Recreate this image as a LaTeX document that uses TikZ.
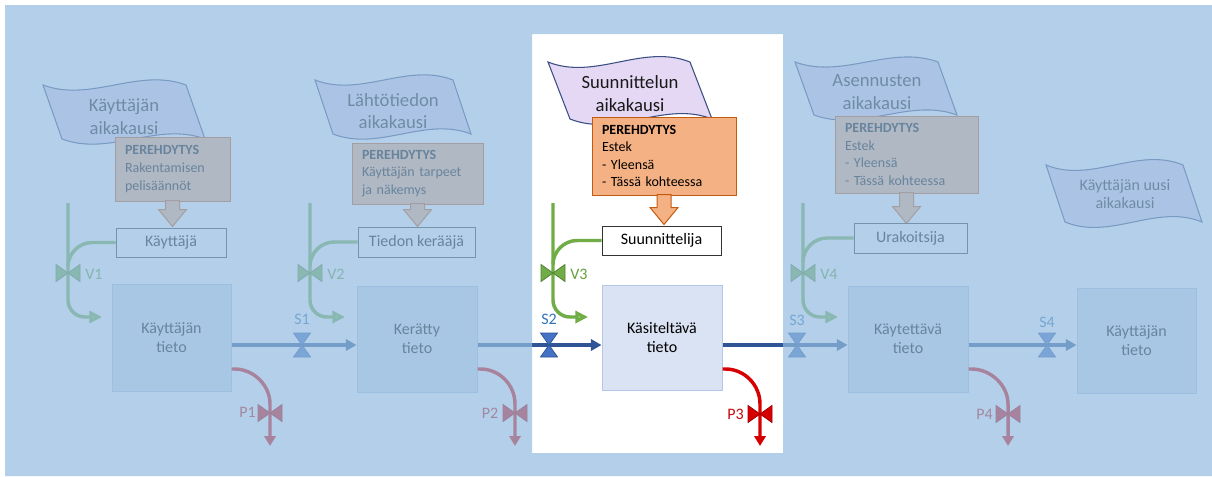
\documentclass[tikz,border=0pt]{standalone}
\usepackage{fontspec}
\setmainfont{Carlito}
\usetikzlibrary{arrows.meta,calc}
\definecolor{bgover}{RGB}{148,188,224}
\definecolor{flagfill}{RGB}{228,216,244}
\definecolor{flagdraw}{RGB}{60,78,130}
\definecolor{orfill}{RGB}{244,177,131}
\definecolor{ordraw}{RGB}{197,90,17}
\definecolor{tietofill}{RGB}{218,227,243}
\definecolor{tietodraw}{RGB}{180,199,231}
\definecolor{flowblue}{RGB}{47,85,151}
\definecolor{valveblue}{RGB}{68,114,196}
\definecolor{sblue}{RGB}{46,117,182}
\definecolor{pgreen}{RGB}{112,173,71}
\definecolor{dgreen}{RGB}{84,130,53}
\definecolor{lgreen}{RGB}{169,209,142}
\definecolor{pred}{RGB}{215,0,0}
\definecolor{dred}{RGB}{160,0,0}
\newcommand\pxu{0.75pt}
% l, y-top-corners, w, y-bottom-corners, slant
\newcommand\flagshape[5]{%
  \pgfmathsetmacro\fd{0.33*(#4-#2)}%
  \pgfmathsetmacro\fw{#3-#5}%
  \draw[flagsty] (#1,#2) .. controls ({#1+\fw/3},{#2+\fd}) and ({#1+2*\fw/3},{#2-\fd}) .. ({#1+\fw},#2)
    -- ({#1+#3},#4) .. controls ({#1+#3-\fw/3},{#4-\fd}) and ({#1+#3-2*\fw/3},{#4+\fd}) .. ({#1+#5},#4) -- cycle;}
\newcommand\valveLR[3]{\filldraw[#3] (#1-12,#2-8.5) -- (#1,#2) -- (#1-12,#2+8.5) -- cycle
  (#1+12,#2-8.5) -- (#1,#2) -- (#1+12,#2+8.5) -- cycle;}
\newcommand\valveTB[3]{\filldraw[#3] (#1-8.5,#2-12) -- (#1,#2) -- (#1+8.5,#2-12) -- cycle
  (#1-8.5,#2+12) -- (#1,#2) -- (#1+8.5,#2+12) -- cycle;}
% block arrow below a node: node, total length
\newcommand\blockarrow[2]{\draw[barrow] (#1.south) ++(-7,-1) -- ++(0,{#2-16}) -- ++(-7,0) -- ++(14,17) -- ++(14,-17) -- ++(-7,0) -- ++(0,{-(#2-16)}) -- cycle;}
% green pipe: x of pipe, actor node, y of actor, end x
\newcommand\greenpipe[4]{%
  \draw[gline] (#2.west) -- ({#1+24},#3) .. controls ({#1+11},#3) and (#1,{#3+11}) .. (#1,{#3+24});
  \draw[gline,-{Triangle[length=9.5pt,width=9pt,fill=lgreen]}] (#1,203) -- (#1,300) .. controls (#1,309.4) and ({#1+7.6},317) .. ({#1+17},317) -- (#4,317);}
% red pipe: tieto node, x of vertical
\newcommand\redpipe[2]{%
  \draw[rline,-{Triangle[length=7.5pt,width=8.5pt]}] (#1.east |- ry) -- ++(3,0) .. controls +(19,0) and +(0,-19) .. (#2,404) -- (#2,446);}
\begin{document}
\begin{tikzpicture}[x=0.75pt,y=-0.75pt,
  flagsty/.style={fill=flagfill,draw=flagdraw,line width=0.8pt},
  flagtext/.style={font=\fontsize{14}{17}\selectfont,align=center,text=black!90,inner sep=0},
  pbox/.style={draw=ordraw,fill=orfill,line width=0.75pt,font=\fontsize{10.5}{13.2}\selectfont,align=left,inner xsep={10*\pxu},inner ysep=0,text=black},
  barrow/.style={draw=ordraw,fill=orfill,line width=0.75pt},
  actor/.style={draw=black!80,fill=white,line width=0.75pt,font=\fontsize{12}{14.6}\selectfont,inner sep=0},
  tieto/.style={draw=tietodraw,fill=tietofill,line width=0.75pt,font=\fontsize{12}{14.6}\selectfont,align=center,inner sep=0},
  flow/.style={draw=flowblue,line width=2.4pt,-{Triangle[length=8pt,width=8.5pt]}},
  gline/.style={draw=pgreen,line width=2.6pt},
  rline/.style={draw=pred,line width=2.6pt},
  vval/.style={fill=pgreen,draw=dgreen,line width=0.6pt},
  sval/.style={fill=valveblue,draw=flowblue,line width=0.6pt},
  pval/.style={fill=pred,draw=dred,line width=0.6pt},
  vlab/.style={font=\fontsize{12}{14}\selectfont,text={rgb,255:red,100;green,160;blue,60},inner sep=0},
  slab/.style={font=\fontsize{12}{14}\selectfont,text=sblue,inner sep=0},
  plab/.style={font=\fontsize{12}{14}\selectfont,text={rgb,255:red,200;green,10;blue,10},inner sep=0}]
\useasboundingbox (0,0) rectangle (1212,476);
\fill[white] (0,0) rectangle (1212,476);
\coordinate (fy) at (0,345);
\coordinate (ry) at (0,369);
% flags
\flagshape{43}{85}{162}{139}{19}
\flagshape{315}{80}{156}{134}{18}
\flagshape{548}{62}{164}{119}{22}
\flagshape{795}{62}{162}{115}{19}
\flagshape{1046}{165}{156}{222}{19}
\node[flagtext] (f1) at (124,116.5) {Käyttäjän\\aikakausi};
\node[flagtext] (f2) at (393,111) {Lähtötiedon\\aikakausi};
\node[flagtext] (f3) at (630,93.5) {Suunnittelun\\aikakausi};
\node[flagtext] (f4) at (877,92) {Asennusten\\aikakausi};
\node[flagtext,font=\fontsize{12}{14}\selectfont] (f5) at (1125,194) {Käyttäjän uusi\\aikakausi};
% perehdytys boxes
\node[pbox,text width={95*\pxu},minimum height={64*\pxu}] (pb1) at (172.5,169) {\textbf{PEREHDYTYS}\\Rakentamisen\\pelisäännöt};
\node[pbox,text width={111*\pxu},minimum height={61*\pxu}] (pb2) at (417.5,173.5) {\textbf{PEREHDYTYS}\\Käyttäjän tarpeet\\ja näkemys};
\node[pbox,text width={124*\pxu},minimum height={78*\pxu}] (pb3) at (664,156) {\textbf{PEREHDYTYS}\\Estek\\- Yleensä\\- Tässä kohteessa};
\node[pbox,text width={123*\pxu},minimum height={77*\pxu}] (pb4) at (906.5,154.5) {\textbf{PEREHDYTYS}\\Estek\\- Yleensä\\- Tässä kohteessa};
\blockarrow{pb1}{25}
\blockarrow{pb2}{22}
\blockarrow{pb3}{29}
\blockarrow{pb4}{30}
% actors
\node[actor,minimum width={110*\pxu},minimum height={29*\pxu}] (a1) at (171,242.5) {Käyttäjä};
\node[actor,minimum width={117*\pxu},minimum height={30*\pxu}] (a2) at (416.5,242) {Tiedon kerääjä};
\node[actor,minimum width={119*\pxu},minimum height={29*\pxu}] (a3) at (661.5,240.5) {Suunnittelija};
\node[actor,minimum width={113*\pxu},minimum height={30*\pxu}] (a4) at (910.5,238) {Urakoitsija};
% tieto boxes
\node[tieto,minimum width={119*\pxu},minimum height={107*\pxu}] (t1) at (171.5,337.5) {Käyttäjän\\tieto};
\node[tieto,minimum width={120*\pxu},minimum height={106*\pxu}] (t2) at (417,339) {Kerätty\\tieto};
\node[tieto,minimum width={120*\pxu},minimum height={105*\pxu}] (t3) at (662,337.5) {Käsiteltävä\\tieto};
\node[tieto,minimum width={120*\pxu},minimum height={106*\pxu}] (t4) at (908,339) {Käytettävä\\tieto};
\node[tieto,minimum width={119*\pxu},minimum height={105*\pxu}] (t5) at (1136.5,340.5) {Käyttäjän\\tieto};
% green pipes
\greenpipe{68}{a1}{242.5}{102}
\greenpipe{310}{a2}{242}{345}
\greenpipe{553}{a3}{240.5}{588}
\greenpipe{803}{a4}{238}{838}
% flows
\draw[flow] (t1.east |- fy) -- (t2.west |- fy);
\draw[flow] (t2.east |- fy) -- (t3.west |- fy);
\draw[flow] (t3.east |- fy) -- (t4.west |- fy);
\draw[flow] (t4.east |- fy) -- (t5.west |- fy);
% red pipes
\redpipe{t1}{270}
\redpipe{t2}{515}
\redpipe{t3}{760}
\redpipe{t4}{1008}
% valves
\valveLR{68}{273}{vval}
\valveLR{310}{273}{vval}
\valveLR{553}{273}{vval}
\valveLR{803}{273}{vval}
\valveTB{302}{345}{sval}
\valveTB{549}{345}{sval}
\valveTB{797}{345}{sval}
\valveTB{1047}{345}{sval}
\valveLR{270}{413}{pval}
\valveLR{515}{413}{pval}
\valveLR{760}{414}{pval}
\valveLR{1008}{414}{pval}
% labels
\node[vlab] (v1) at (94,274) {V1};
\node[vlab] (v2) at (336,274) {V2};
\node[vlab] (v3) at (579,274) {V3};
\node[vlab] (v4) at (829,274) {V4};
\node[slab] (s1) at (302,319) {S1};
\node[slab] (s2) at (549,319) {S2};
\node[slab] (s3) at (797,320) {S3};
\node[slab] (s4) at (1047,322) {S4};
\node[plab] (p1) at (247.5,412) {P1};
\node[plab] (p2) at (490,413) {P2};
\node[plab] (p3) at (735.5,414) {P3};
\node[plab] (p4) at (984.5,414) {P4};
% fading overlay outside the focus panel
\fill[bgover,fill opacity=0.7,even odd rule] (5,5) rectangle (1212,476) (532,34) rectangle (783,453);
\end{tikzpicture}
\end{document}
